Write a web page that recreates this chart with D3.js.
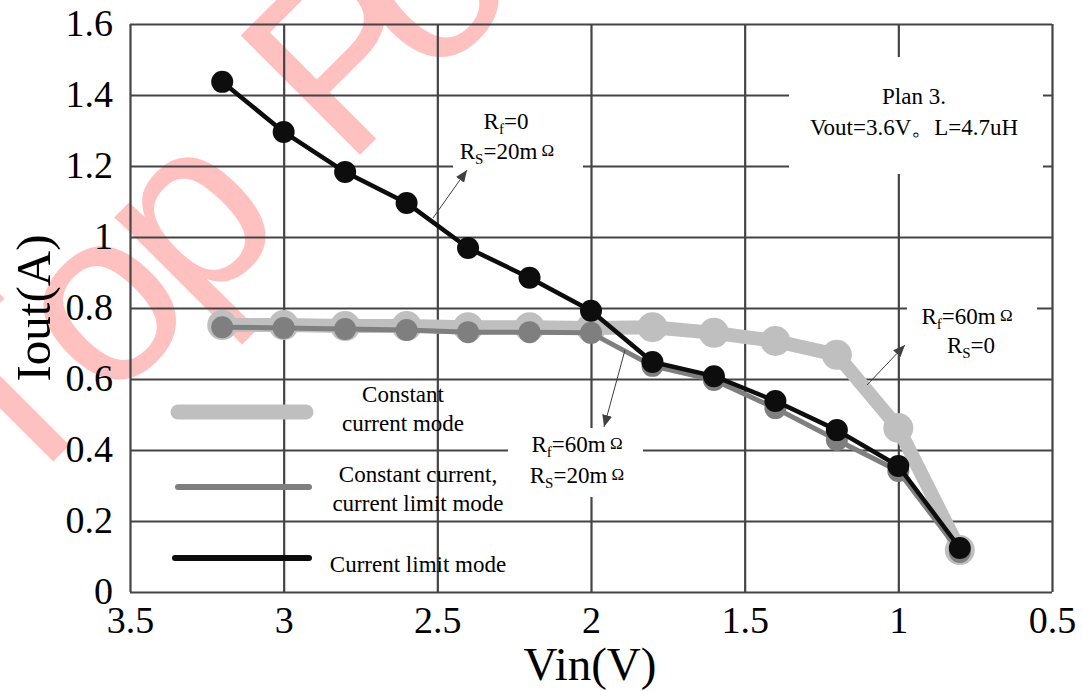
<!DOCTYPE html>
<html>
<head>
<meta charset="utf-8">
<script src="https://cdn.jsdelivr.net/npm/d3@7"></script>
<style>
  body { margin: 0; background: #fff; }
  svg { display: block; }
  text { font-family: "Liberation Serif", "Times New Roman", serif; }
</style>
</head>
<body>
<div id="chart"></div>
<script>
// chart data
var vin = [3.2, 3.0, 2.8, 2.6, 2.4, 2.2, 2.0, 1.8, 1.6, 1.4, 1.2, 1.0, 0.8];
var ccMode = [0.752, 0.752, 0.749, 0.749, 0.746, 0.746, 0.744, 0.746, 0.730, 0.707, 0.668, 0.462, 0.118];
var ccLimitMode = [0.746, 0.744, 0.741, 0.738, 0.732, 0.732, 0.730, 0.637, 0.597, 0.518, 0.428, 0.341, 0.113];
var limitMode = [1.437, 1.296, 1.183, 1.096, 0.969, 0.885, 0.792, 0.648, 0.608, 0.538, 0.456, 0.355, 0.124];
var xTicks = [3.5, 3, 2.5, 2, 1.5, 1, 0.5];
var xTickLabels = ["3.5", "3", "2.5", "2", "1.5", "1", "0.5"];
var yTicks = [0, 0.2, 0.4, 0.6, 0.8, 1, 1.2, 1.4, 1.6];
var yTickLabels = ["0", "0.2", "0.4", "0.6", "0.8", "1", "1.2", "1.4", "1.6"];

var W = 1083, H = 691;
var margin = {top: 24, right: 31, bottom: 99, left: 130};
var w = W - margin.left - margin.right;
var h = H - margin.top - margin.bottom;

var svg = d3.select("#chart").append("svg")
  .attr("width", W)
  .attr("height", H);

// watermark (letters placed one by one along the rotated baseline)
var wm = svg.append("text")
  .attr("transform", "rotate(-45)")
  .attr("y", 364)
  .style("font-family", "'Liberation Sans', Arial, sans-serif")
  .style("font-size", "245px")
  .attr("fill", "#ffc0c0");
[["T", -352], ["o", -212], ["p", -89], ["P", 125], ["o", 244], ["w", 382]].forEach(function(l) {
  wm.append("tspan").attr("x", l[1]).text(l[0]);
});

var g = svg.append("g")
  .attr("transform", "translate(" + margin.left + "," + margin.top + ")");

var x = d3.scaleLinear().domain([3.5, 0.5]).range([0, w]);
var y = d3.scaleLinear().domain([0, 1.6]).range([h, 0]);

//grid + axes
var xAxis = d3.axisBottom(x)
  .tickValues(xTicks)
  .tickSize(-h)
  .tickSizeOuter(0)
  .tickPadding(12)
  .tickFormat(function(d, i) { return xTickLabels[i]; });

var yAxis = d3.axisLeft(y)
  .tickValues(yTicks)
  .tickSize(-w)
  .tickSizeOuter(0)
  .tickPadding(17)
  .tickFormat(function(d, i) { return yTickLabels[i]; });

var gx = g.append("g")
  .attr("transform", "translate(0," + h + ")")
  .call(xAxis);
var gy = g.append("g").call(yAxis);

[gx, gy].forEach(function(a) {
  a.select(".domain").remove();
  a.selectAll(".tick line").attr("stroke", "#444").attr("stroke-width", 2.2);
  a.selectAll(".tick text")
    .attr("fill", "#000")
    .style("font-family", "'Liberation Serif', 'Times New Roman', serif")
    .style("font-size", "38px");
});
gy.selectAll(".tick text").attr("dy", "0.3em");
gx.selectAll(".tick text").attr("dy", "0.75em");

// white boxes under the notes, they cut the grid
var boxes = [
  [789, 57, 1043, 174],
  [453, 102, 583, 178],
  [907, 290, 1037, 370],
  [508, 428, 643, 497]
];
svg.selectAll("rect.box")
  .data(boxes)
  .enter()
  .append("rect")
  .attr("class", "box")
  .attr("x", function(d) { return d[0]; })
  .attr("y", function(d) { return d[1]; })
  .attr("width", function(d) { return d[2] - d[0]; })
  .attr("height", function(d) { return d[3] - d[1]; })
  .attr("fill", "#fff");

// series
var series = [
  {values: ccMode, color: "#bfbfbf", lw: 14, r: 15},
  {values: ccLimitMode, color: "#7f7f7f", lw: 5, r: 11},
  {values: limitMode, color: "#0d0d0d", lw: 4.5, r: 11}
];

var line = d3.line()
  .x(function(d) { return x(d[0]); })
  .y(function(d) { return y(d[1]); });

series.forEach(function(s) {
  var pts = vin.map(function(v, i) { return [v, s.values[i]]; });
  g.append("path")
    .datum(pts)
    .attr("d", line)
    .attr("fill", "none")
    .attr("stroke", s.color)
    .attr("stroke-width", s.lw)
    .attr("stroke-linejoin", "round");
  g.selectAll(null)
    .data(pts)
    .enter()
    .append("circle")
    .attr("cx", function(d) { return x(d[0]); })
    .attr("cy", function(d) { return y(d[1]); })
    .attr("r", s.r)
    .attr("fill", s.color);
});

// legend
var legend = [
  {color: "#bfbfbf", lw: 15, x1: 178, x2: 306, y: 412, lines: [["Constant", 403, 402], ["current mode", 403, 431]]},
  {color: "#7f7f7f", lw: 6, x1: 178, x2: 309, y: 487, lines: [["Constant current,", 418, 482], ["current limit mode", 418, 511]]},
  {color: "#0d0d0d", lw: 6, x1: 175, x2: 309, y: 558, lines: [["Current limit mode", 418, 572]]}
];
legend.forEach(function(l) {
  svg.append("line")
    .attr("x1", l.x1).attr("x2", l.x2)
    .attr("y1", l.y).attr("y2", l.y)
    .attr("stroke", l.color)
    .attr("stroke-width", l.lw)
    .attr("stroke-linecap", "round");
  l.lines.forEach(function(t) {
    svg.append("text")
      .attr("x", t[1]).attr("y", t[2])
      .attr("text-anchor", "middle")
      .style("font-size", "23px")
      .text(t[0]);
  });
});

// notes
svg.append("text").attr("x", 914).attr("y", 104).attr("text-anchor", "middle")
  .style("font-size", "23px").text("Plan 3.");
svg.append("text").attr("x", 914).attr("y", 135).attr("text-anchor", "middle")
  .style("font-size", "23px").text("Vout=3.6V。L=4.7uH");

function rLabel(cx, cy, sub, val, ohm) {
  var t = svg.append("text")
    .attr("x", cx).attr("y", cy)
    .attr("text-anchor", "middle")
    .style("font-size", "23px");
  t.append("tspan").text("R");
  t.append("tspan").attr("dy", 5).style("font-size", "15px").text(sub);
  t.append("tspan").attr("dy", -5).text(val);
  if (ohm) {
    t.append("tspan").attr("dy", -3).style("font-size", "17px").text(" Ω");
  }
}
rLabel(506, 129, "f", "=0", false);
rLabel(507, 159, "S", "=20m", true);
rLabel(967, 324, "f", "=60m", true);
rLabel(971, 353, "S", "=0", false);
rLabel(577, 452, "f", "=60m", true);
rLabel(577, 483, "S", "=20m", true);

// arrows
svg.append("defs").append("marker")
  .attr("id", "head")
  .attr("viewBox", "0 0 12 10")
  .attr("refX", 12).attr("refY", 5)
  .attr("markerWidth", 12).attr("markerHeight", 10)
  .attr("markerUnits", "userSpaceOnUse")
  .attr("orient", "auto")
  .append("path")
  .attr("d", "M0,0L12,5L0,10Z")
  .attr("fill", "#404040");

var arrows = [[433, 218, 467, 170], [625, 350, 604, 427], [867, 385, 905, 345]];
arrows.forEach(function(a) {
  svg.append("line")
    .attr("x1", a[0]).attr("y1", a[1])
    .attr("x2", a[2]).attr("y2", a[3])
    .attr("stroke", "#404040")
    .attr("stroke-width", 1)
    .attr("marker-end", "url(#head)");
});

// axis titles
svg.append("text")
  .attr("transform", "translate(50,308) rotate(-90)")
  .attr("text-anchor", "middle")
  .style("font-size", "49px")
  .text("Iout(A)");

svg.append("text")
  .attr("x", 590).attr("y", 680)
  .attr("text-anchor", "middle")
  .style("font-size", "47px")
  .text("Vin(V)");
</script>
</body>
</html>
